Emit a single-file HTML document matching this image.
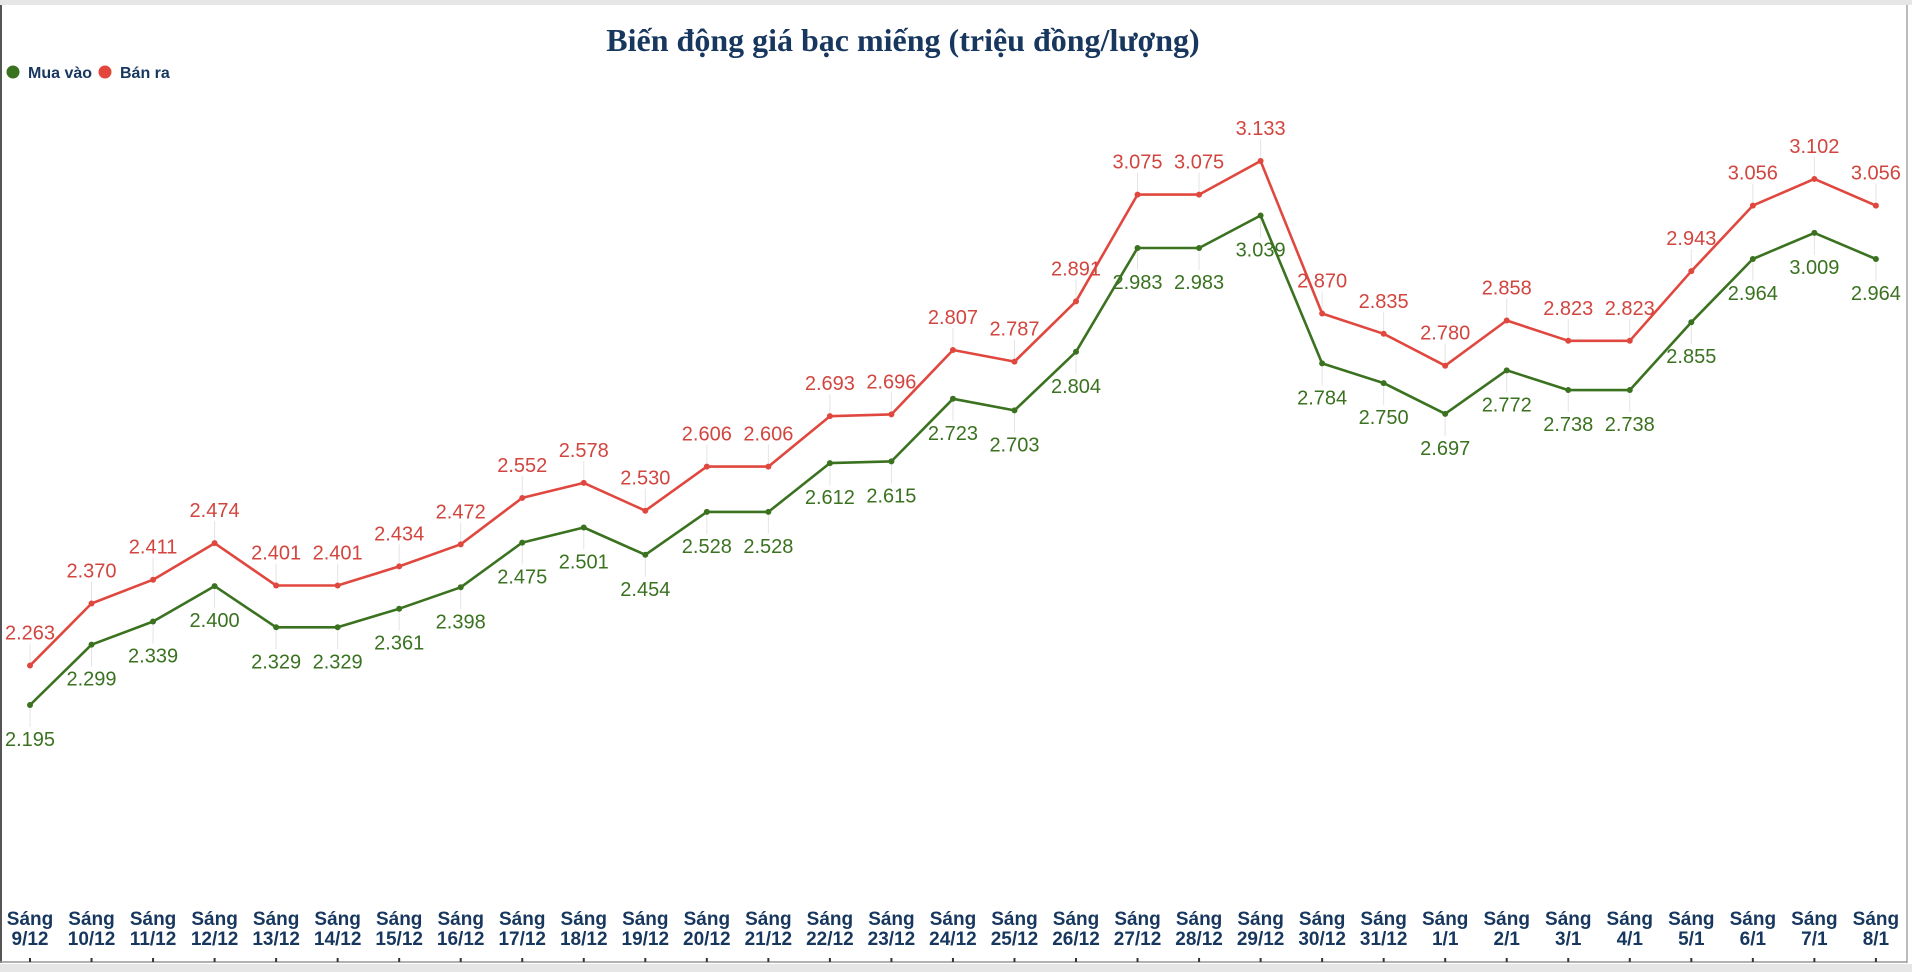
<!DOCTYPE html>
<html><head><meta charset="utf-8">
<style>
html,body{margin:0;padding:0;background:#fff;}
svg{display:block;}
</style></head>
<body>
<svg width="1912" height="972" viewBox="0 0 1912 972" xmlns="http://www.w3.org/2000/svg">
  <rect x="0" y="0" width="1912" height="972" fill="#ffffff"/>
  <rect x="0" y="0" width="1912" height="5" fill="#e6e6e6"/>
  <line x1="1" y1="5" x2="1" y2="963" stroke="#555" stroke-width="2"/>
  <line x1="1907" y1="5" x2="1907" y2="963" stroke="#bbb" stroke-width="2"/>
  <rect x="0" y="964" width="1912" height="8" fill="#e6e6e6"/>
  <text x="903" y="51" text-anchor="middle" font-family="'Liberation Serif', serif" font-weight="bold" font-size="32" fill="#17375e">Biến động giá bạc miếng (triệu đồng/lượng)</text>
  <g>
    <g>
      <circle cx="13" cy="72" r="6.5" fill="#3a7220"/>
      <text x="28" y="78" font-family="'Liberation Sans', sans-serif" font-weight="bold" font-size="16" fill="#17375e">Mua vào</text>
    </g>
    <g>
      <circle cx="105" cy="72" r="6.5" fill="#e5463b"/>
      <text x="120" y="78" font-family="'Liberation Sans', sans-serif" font-weight="bold" font-size="16" fill="#17375e">Bán ra</text>
    </g>
  </g>
  <g id="chart"></g>
</svg>
<script>
const categories = ["9/12","10/12","11/12","12/12","13/12","14/12","15/12","16/12","17/12","18/12","19/12","20/12","21/12","22/12","23/12","24/12","25/12","26/12","27/12","28/12","29/12","30/12","31/12","1/1","2/1","3/1","4/1","5/1","6/1","7/1","8/1"];
const buyValues = [2.195,2.299,2.339,2.400,2.329,2.329,2.361,2.398,2.475,2.501,2.454,2.528,2.528,2.612,2.615,2.723,2.703,2.804,2.983,2.983,3.039,2.784,2.750,2.697,2.772,2.738,2.738,2.855,2.964,3.009,2.964];
const sellValues = [2.263,2.370,2.411,2.474,2.401,2.401,2.434,2.472,2.552,2.578,2.530,2.606,2.606,2.693,2.696,2.807,2.787,2.891,3.075,3.075,3.133,2.870,2.835,2.780,2.858,2.823,2.823,2.943,3.056,3.102,3.056];

const NS = "http://www.w3.org/2000/svg";
const g = document.getElementById('chart');
function xAt(i){ return 30 + i * 61.53; }
function yAt(v){ return 705 - (v - 2.195) * 580; }
function fmt(v){ return v.toFixed(3); }
function mk(tag, attrs){ const e = document.createElementNS(NS, tag); for (const k in attrs) e.setAttribute(k, attrs[k]); return e; }

// x-axis
const axis = mk('line', {x1:0, y1:962, x2:1907, y2:962, stroke:'#999', 'stroke-width':1.5});


g.appendChild(axis);
categories.forEach((c, i) => {
  const x = xAt(i);
  const t = mk('line', {x1:x, y1:958, x2:x, y2:962, stroke:'#333', 'stroke-width':2});
  
  
  g.appendChild(t);
  const lab = mk('text', {x:x, y:925, 'text-anchor':'middle', 'font-family':"'Liberation Sans', sans-serif", 'font-weight':'bold', 'font-size':'19', fill:'#17375e'});
  
  
  const s1 = mk('tspan', {x:x, dy:0}); s1.textContent = 'Sáng';
  const s2 = mk('tspan', {x:x, dy:20}); s2.textContent = c;
  lab.appendChild(s1); lab.appendChild(s2);
  g.appendChild(lab);
});

function series(vals, color, labelColor, above, name){
  // leader lines
  vals.forEach((v, i) => {
    const x = xAt(i), y = yAt(v);
    const l = mk('line', {x1:x, y1:y, x2:x, y2: above ? y - 22 : y + 22, stroke:'#e4e4e4', 'stroke-width':1});
    
    
    g.appendChild(l);
  });
  const pts = vals.map((v, i) => xAt(i).toFixed(1) + ',' + yAt(v).toFixed(1)).join(' ');
  const pl = mk('polyline', {points:pts, fill:'none', stroke:color, 'stroke-width':2.6, 'stroke-linejoin':'round'});
  
  
  g.appendChild(pl);
  vals.forEach((v, i) => {
    const x = xAt(i), y = yAt(v);
    const c = mk('circle', {cx:x, cy:y, r:3, fill:color});
    
    
    g.appendChild(c);
    const t = mk('text', {x:x, y: above ? y - 26 : y + 41, 'text-anchor':'middle', 'font-family':"'Liberation Sans', sans-serif", 'font-size':'20', fill:labelColor});
    
    
    t.textContent = fmt(v);
    g.appendChild(t);
  });
}
series(sellValues, '#e0483f', '#d2453f', true, 'ban-ra');
series(buyValues, '#3a7220', '#3a7220', false, 'mua-vao');
</script>
</body></html>
